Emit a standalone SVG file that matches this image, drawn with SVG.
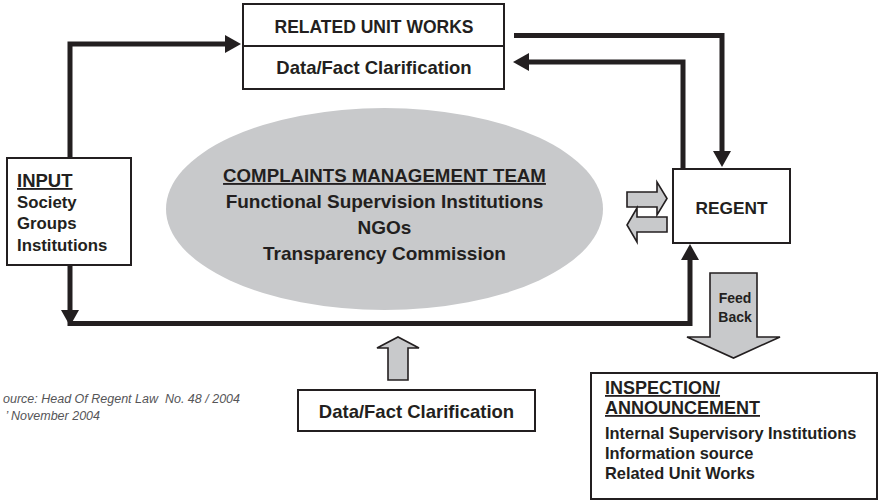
<svg xmlns="http://www.w3.org/2000/svg" width="881" height="501" viewBox="0 0 881 501">
<style>
  .box { fill: #ffffff; stroke: #231f20; stroke-width: 2; }
  .t { font-family: "Liberation Sans", Arial, sans-serif; font-weight: bold; fill: #231f20; }
  .c { text-anchor: middle; }
  .u { text-decoration: underline; }
  .conn { fill: none; stroke: #231f20; stroke-width: 5; stroke-linejoin: miter; }
  .block { fill: #c8c9cb; stroke: #231f20; stroke-width: 1.6; stroke-linejoin: miter; }
  .src { font-family: "Liberation Sans", Arial, sans-serif; font-style: italic; font-size: 12.5px; fill: #555557; }
</style>
<defs>
  <marker id="arr" markerUnits="userSpaceOnUse" markerWidth="16" markerHeight="18" refX="4" refY="9" orient="auto" viewBox="0 0 16 18">
    <path d="M0,0 L16,9 L0,18 Z" fill="#231f20"/>
  </marker>
</defs>
<rect width="881" height="501" fill="#ffffff"/>

<g id="team">
  <ellipse cx="384.5" cy="209" rx="218.5" ry="101" fill="#c8c9cb"/>
  <text class="t c u" x="384.5" y="182" font-size="18.7">COMPLAINTS MANAGEMENT TEAM</text>
  <text class="t c" x="384.5" y="208" font-size="19">Functional Supervision Institutions</text>
  <text class="t c" x="384.5" y="234" font-size="19">NGOs</text>
  <text class="t c" x="384.5" y="260" font-size="19">Transparency Commission</text>
</g>

<g id="connectors">
  <path class="conn" d="M70,158 V44 H229" marker-end="url(#arr)"/>
  <path class="conn" d="M70,265 V314" marker-end="url(#arr)"/>
  <path class="conn" d="M67.5,323.5 H690 V256" marker-end="url(#arr)"/>
  <path class="conn" d="M514,35.5 H722 V155" marker-end="url(#arr)"/>
  <path class="conn" d="M683,169 V62 H525" marker-end="url(#arr)"/>
  <polygon class="block" points="627,192 657,192 657,182 667,198.5 657,215 657,207 627,207"/>
  <polygon class="block" points="667,217 637,217 637,208 627,225 637,242 637,232 667,232"/>
  <polygon class="block" points="388,380 388,348 377,348 398,337 419,348 408,348 408,380"/>
  <polygon class="block" points="710,273 757,273 757,337 780,337 733.5,358 687,337 710,337"/>
  <text class="t c" x="735" y="303" font-size="14">Feed</text>
  <text class="t c" x="735" y="322" font-size="14">Back</text>
</g>

<g id="related">
  <rect class="box" x="243" y="4" width="261" height="85"/>
  <line x1="243" y1="46" x2="504" y2="46" stroke="#231f20" stroke-width="2"/>
  <text class="t c" x="374" y="33" font-size="17.5">RELATED UNIT WORKS</text>
  <text class="t c" x="374" y="74" font-size="18.5">Data/Fact Clarification</text>
</g>

<g id="input">
  <rect class="box" x="7" y="158" width="124" height="107"/>
  <text class="t u" x="17" y="187" font-size="18.5">INPUT</text>
  <text class="t" x="17" y="208" font-size="16.8">Society</text>
  <text class="t" x="17" y="229" font-size="16.8">Groups</text>
  <text class="t" x="17" y="251" font-size="16.8">Institutions</text>
</g>

<g id="regent">
  <rect class="box" x="673" y="169" width="117" height="74"/>
  <text class="t c" x="731.5" y="214" font-size="17.3">REGENT</text>
</g>

<g id="datafact">
  <rect class="box" x="298" y="390" width="237" height="41"/>
  <text class="t c" x="416.5" y="418" font-size="18.5">Data/Fact Clarification</text>
</g>

<g id="inspection">
  <rect class="box" x="591" y="373" width="286" height="126"/>
  <text class="t u" x="605" y="394" font-size="18">INSPECTION/</text>
  <text class="t u" x="605" y="414" font-size="18">ANNOUNCEMENT</text>
  <text class="t" x="605" y="439" font-size="16.4">Internal Supervisory Institutions</text>
  <text class="t" x="605" y="459" font-size="16.4">Information source</text>
  <text class="t" x="605" y="479" font-size="16.4">Related Unit Works</text>
</g>

<g id="source">
  <text class="src" x="240" y="403" text-anchor="end" xml:space="preserve">ource: Head Of Regent Law  No. 48 / 2004</text>
  <text class="src" x="100" y="420" text-anchor="end">’ November 2004</text>
</g>
</svg>
